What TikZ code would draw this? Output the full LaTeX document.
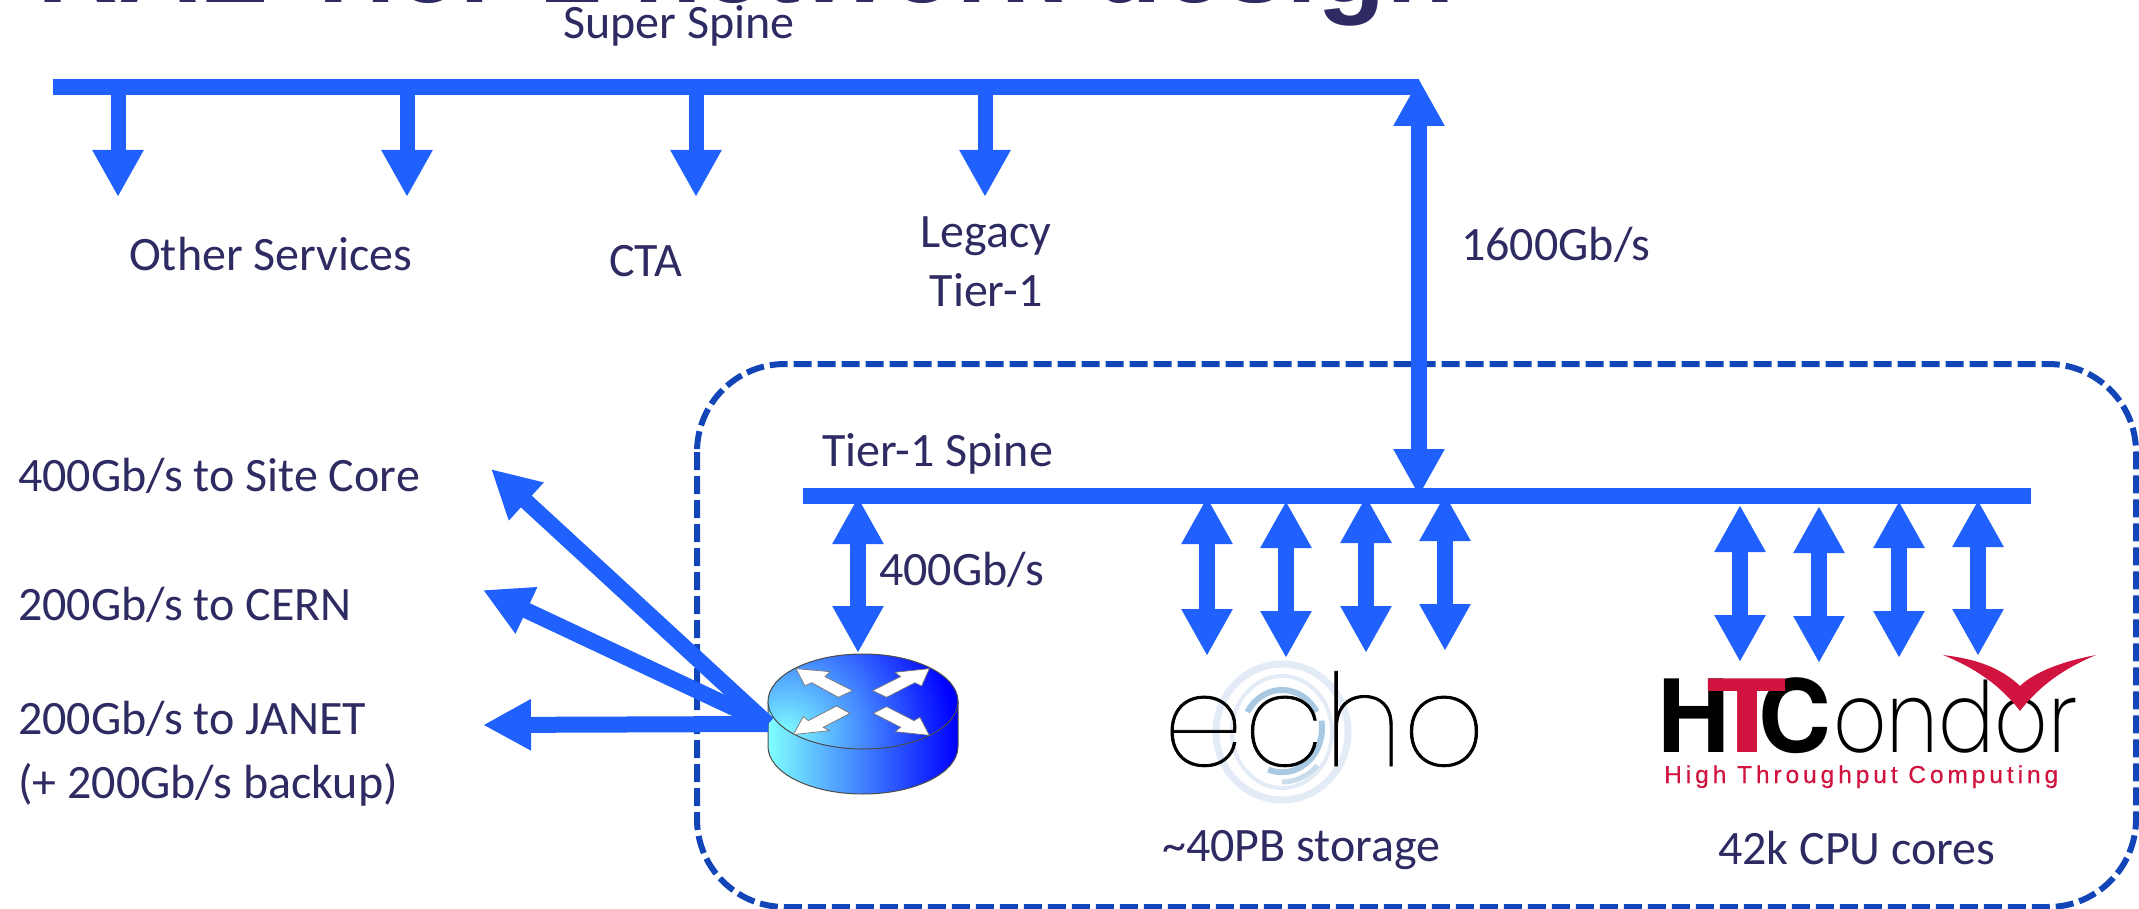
\documentclass[tikz,border=0pt]{standalone}
\usepackage{graphicx}
\usepackage{fontspec}
\setmainfont{Carlito}
\newfontfamily\titlefont{Liberation Sans}
\newfontfamily\echofont[FakeBold=0.6]{Poppins Thin}
\newfontfamily\logolight{Poppins ExtraLight}
\newfontfamily\logoheavy{TeX Gyre Heros}
\newfontfamily\htcfont[LetterSpace=16,FakeBold=0.4]{Liberation Sans}
\usetikzlibrary{arrows.meta}
\definecolor{netblue}{HTML}{2060FC}
\definecolor{inktext}{HTML}{2E2B63}
\definecolor{boxblue}{HTML}{1246B8}
\definecolor{htcred}{HTML}{D0143F}
\definecolor{ringa}{HTML}{E3ECF6}
\definecolor{ringb}{HTML}{A9C9E2}
\definecolor{ringc}{HTML}{C9DCEC}
\tikzset{
  x=1pt,y=-1pt,
  lbl/.style={anchor=base west,inner sep=0pt,text=inktext,font=\fontsize{48}{54}\selectfont},
  lblc/.style={lbl,anchor=base},
  barnode/.style={fill=netblue,inner sep=0pt,minimum height=16pt,draw=none},
  oneway/.style={draw=netblue,line width=15pt,-{Triangle[length=47pt,width=48pt]}},
  twoway/.style={draw=netblue,line width=16pt,{Triangle[length=47pt,width=48pt]}-{Triangle[length=47pt,width=48pt]}},
  fanarrow/.style={draw=netblue,line width=16pt,-{Triangle[length=48pt,width=48pt]}},
  whitearrow/.style={fill=white,draw=black!55,line width=.7pt,line join=miter},
  logotext/.style={anchor=base west,inner sep=0pt},
}
\begin{document}
\begin{tikzpicture}
\useasboundingbox (0,0) rectangle (2139,909);
% title, clipped by the page
\node[anchor=base east,inner sep=0pt,text=inktext,font=\titlefont\bfseries\fontsize{112}{120}\selectfont] (title) at (1455,3) {RAL Tier-1 network design};
% dashed enclosure
\draw[boxblue,line width=6pt,dash pattern=on 18pt off 6pt,rounded corners=88pt] (697,364) rectangle (2136,907);
% bars
\node[barnode,minimum width=1366pt] (super) at (736,87) {};
\node[barnode,minimum width=1228pt] (tierone) at (1417,496) {};
% labels
\node[lbl] (lsuper) at (563,38.5) {Super Spine};
\node[lbl] (lother) at (129,271) {Other Services};
\node[lbl] (lcta) at (609,277) {CTA};
\node[lblc] (lleg) at (986,248) {Legacy};
\node[lblc] (ltier) at (986,306) {Tier-1};
\node[lbl] (l1600) at (1461,261) {1600Gb/s};
\node[lbl] (lspine) at (822,466.5) {Tier-1 Spine};
\node[lbl] (l400) at (879,585.5) {400Gb/s};
\node[lbl] (lsite) at (18,491.5) {400Gb/s to Site Core};
\node[lbl] (lcern) at (18,620.5) {200Gb/s to CERN};
\node[lbl] (ljanet) at (18,734) {200Gb/s to JANET};
\node[lbl] (lback) at (18,798.5) {(+ 200Gb/s backup)};
\node[lbl] (lstore) at (1162,861.5) {\textasciitilde40PB storage};
\node[lbl] (lcpu) at (1718,864.5) {42k CPU cores};
% super spine arrows
\foreach \n/\xx in {sa/118,sb/407,sc/696,sd/985}{
  \coordinate (\n top) at (\xx,90);
  \coordinate (\n tip) at (\xx,197);
  \draw[oneway] (\n top) -- (\n tip);
}
\coordinate (uptip) at (1419,79);
\coordinate (downtip) at (1419,496);
\draw[twoway] (uptip) -- (downtip);
% tier-1 arrows
\foreach \n/\xx/\ya/\yb in {ea/1207/497/656,eb/1286/501/658,ec/1366/496/653,ed/1445/494/651,ca/1740/505/662,cb/1819/506/663,cc/1899/501/658,cd/1978/500/656}{
  \coordinate (\n a) at (\xx,\ya);
  \coordinate (\n b) at (\xx,\yb);
  \draw[twoway] (\n a) -- (\n b);
}
% echo logo
\draw[ringa,line width=7pt] (1282,732) ellipse [x radius=66pt,y radius=68pt];
\draw[ringa,line width=4pt] (1282,732) ellipse [x radius=50pt,y radius=56pt];
\draw[ringb,line width=6pt] (1282,732) ++(30:40pt) arc[start angle=30,end angle=150,x radius=40pt,y radius=44pt];
\draw[ringb,line width=6pt] (1282,732) ++(-110:40pt) arc[start angle=-110,end angle=10,x radius=40pt,y radius=44pt];
\draw[ringc,line width=5pt] (1282,732) ++(-90:50pt) arc[start angle=-90,end angle=-45,x radius=50pt,y radius=56pt];
\node[logotext,font=\echofont\fontsize{128}{130}\selectfont] (echo) at (1163,766) {echo};
% HTCondor logo
\node[logotext,font=\logoheavy\bfseries\fontsize{101}{105}\selectfont] (htch) at (1657,752) {H};
\node[logotext,font=\logoheavy\bfseries\fontsize{101}{105}\selectfont] (htcc) at (1758,752) {C};
\node[logotext,text=htcred,font=\logoheavy\bfseries\fontsize{101}{105}\selectfont] (htct) at (1706,752) {\scalebox{1.31}[1]{T}};
\node[logotext,font=\logolight\fontsize{98}{100}\selectfont] (htco) at (1833,752) {\scalebox{.85}[1]{ondor}};
\fill[htcred] (1943,655) .. controls (1985,660) and (2005,672) .. (2020,686) .. controls (2035,672) and (2060,662) .. (2096,655) .. controls (2065,668) and (2040,685) .. (2020,711) .. controls (2000,685) and (1975,668) .. cycle;
\node[logotext,text=htcred,font=\htcfont\fontsize{24.5}{26}\selectfont] (htcsub) at (1664,783) {High Throughput Computing};
% router body
\draw[black!70,line width=1pt,left color=cyan!50!white,right color=blue] (768,701.5) -- (768,746.5) arc[start angle=180,end angle=360,x radius=95pt,y radius=47.5pt] -- (958,701.5) -- cycle;
% router arrows
\coordinate (rtrtop) at (858,497);
\coordinate (rtrtip) at (858,653);
\draw[twoway] (rtrtop) -- (rtrtip);
\coordinate (fan) at (768,724);
\coordinate (fansite) at (491,469);
\coordinate (fancern) at (483,590);
\coordinate (fanjanet) at (483,725);
\draw[fanarrow] (fan) -- (fansite);
\draw[fanarrow] (fan) -- (fancern);
\draw[fanarrow] (fan) -- (fanjanet);
% router top
\begin{scope}
  \clip (863,701.5) ellipse [x radius=95pt,y radius=47.5pt];
  \fill[blue] (760,650) rectangle (965,755);
  \shade[inner color=cyan!50!white,outer color=blue] (785,735) circle (170pt);
\end{scope}
\draw[black!70,line width=1pt] (863,701.5) ellipse [x radius=95pt,y radius=47.5pt];
\begin{scope}[shift={(460,440)},x=.3333pt,y=-.3333pt]
  \draw[whitearrow] (1008,686) -- (1110,695) -- (1095,710) -- (1178,752) -- (1135,772) -- (1055,728) -- (1035,738) -- cycle;
  \draw[whitearrow] (1408,686) -- (1385,738) -- (1365,728) -- (1280,772) -- (1238,752) -- (1322,710) -- (1305,697) -- cycle;
  \draw[whitearrow] (1000,884) -- (1030,830) -- (1045,842) -- (1130,798) -- (1170,820) -- (1090,862) -- (1108,872) -- cycle;
  \draw[whitearrow] (1408,886) -- (1305,875) -- (1322,862) -- (1240,820) -- (1280,800) -- (1362,842) -- (1380,832) -- cycle;
\end{scope}
\end{tikzpicture}
\end{document}
